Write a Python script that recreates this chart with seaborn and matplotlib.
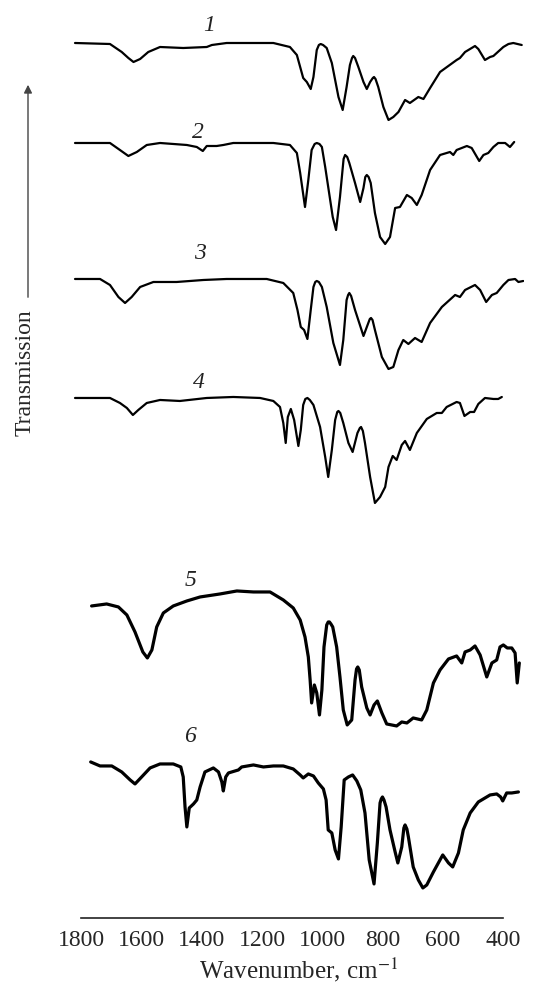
import numpy as np
import pandas as pd
import matplotlib
matplotlib.use("Agg")
import matplotlib.pyplot as plt
from matplotlib.patches import FancyArrowPatch
import seaborn as sns

# IR spectra, transmission in arbitrary units relative to each trace's start level
wn1 = [1821, 1705, 1666, 1644, 1627, 1605, 1578, 1539, 1462, 1384, 1367, 1318, 1163, 1108, 1085,
       1064, 1052, 1039, 1030, 1019, 1012, 1006, 998, 986, 969, 947, 933, 920, 909, 902, 898, 892,
       881, 864, 853, 842, 833, 829, 824, 815, 798, 781, 765, 748, 726, 710, 682, 665, 643, 610,
       555, 544, 527, 494, 483, 461, 444, 433, 400, 383, 367, 339]
t1 = [0, -1, -9, -15, -19, -16, -9, -4, -5, -4, -2, 0, 0, -4, -12,
      -35, -39, -46, -34, -7, -2, -1, -2, -5, -20, -54, -67, -44, -22, -15, -13, -15,
      -24, -39, -46, -39, -35, -34, -36, -44, -64, -77, -74, -69, -57, -60, -54, -56, -45, -29,
      -17, -15, -9, -3, -6, -17, -14, -13, -4, -1, 0, -2]

wn2 = [1821, 1705, 1672, 1644, 1616, 1583, 1539, 1450, 1417, 1397, 1384, 1351, 1329, 1296, 1163,
       1108, 1085, 1074, 1058, 1047, 1036, 1026, 1019, 1010, 1002, 991, 981, 966, 955, 942, 930,
       925, 918, 911, 892, 875, 864, 858, 853, 847, 840, 826, 809, 792, 776, 759, 743, 720, 704,
       687, 671, 643, 610, 577, 566, 555, 521, 505, 480, 466, 450, 433, 417, 394, 378, 364]
t2 = [0, 0, -7, -13, -9, -2, 0, -2, -4, -8, -3, -3, -2, 0, 0,
      -2, -10, -30, -64, -37, -7, -1, 0, -1, -4, -24, -44, -74, -87, -54, -16,
      -12, -14, -20, -40, -59, -45, -34, -32, -34, -40, -70, -94, -101, -94, -65, -64, -52, -55,
      -62, -52, -27, -12, -9, -12, -7, -3, -5, -18, -12, -10, -4, 0, 0, -4, 1]

wn3 = [1821, 1738, 1705, 1677, 1655, 1633, 1605, 1561, 1484, 1395, 1318, 1185, 1130, 1097, 1083,
       1072, 1061, 1050, 1039, 1030, 1024, 1019, 1012, 1002, 986, 964, 942, 931, 920, 915, 911,
       905, 892, 864, 848, 843, 839, 834, 826, 803, 781, 765, 748, 732, 715, 693, 671, 643, 604,
       560, 544, 527, 494, 477, 457, 438, 422, 400, 383, 361, 350, 334]
t3 = [0, 0, -6, -18, -24, -18, -8, -3, -3, -1, 0, 0, -4, -14, -31,
      -48, -51, -60, -31, -8, -3, -2, -3, -8, -28, -64, -86, -61, -21, -16, -14,
      -17, -31, -57, -44, -40, -39, -41, -51, -78, -90, -88, -71, -61, -65, -59, -63, -44, -28,
      -16, -18, -11, -6, -11, -23, -16, -14, -6, -1, 0, -3, -2]

wn4 = [1821, 1705, 1672, 1649, 1629, 1611, 1583, 1539, 1473, 1384, 1296, 1207, 1163, 1141, 1130,
       1122, 1115, 1105, 1094, 1080, 1072, 1064, 1057, 1050, 1042, 1030, 1008, 991, 981, 969, 958,
       951, 947, 941, 931, 914, 900, 884, 876, 872, 866, 859, 842, 826, 809, 792, 781, 767, 754,
       737, 726, 710, 687, 654, 621, 604, 588, 555, 544, 529, 510, 497, 483, 461, 433, 417, 405]
t4 = [0, 0, -5, -10, -17, -12, -5, -2, -3, 0, 1, 0, -3, -9, -25,
      -45, -19, -11, -22, -48, -32, -7, -1, 0, -2, -7, -29, -59, -79, -52, -22,
      -14, -13, -15, -25, -45, -54, -35, -30, -29, -33, -45, -79, -105, -99, -89, -69, -58, -62,
      -47, -43, -52, -35, -21, -15, -15, -9, -4, -5, -18, -14, -14, -6, 0, -1, -1, 1]

wn5 = [1766, 1716, 1677, 1649, 1622, 1596, 1581, 1566, 1550, 1528, 1495, 1450, 1406, 1340, 1284,
       1229, 1174, 1130, 1097, 1074, 1058, 1047, 1041, 1036, 1027, 1019, 1010, 1002, 995, 986,
       981, 977, 972, 966, 953, 942, 931, 918, 903, 892, 887, 883, 878, 870, 853, 842, 829, 818,
       803, 787, 754, 737, 720, 699, 671, 654, 632, 610, 582, 555, 538, 527, 510, 494, 477, 455,
       438, 422, 411, 400, 387, 372, 361, 354, 347]
t5 = [0, 2, -1, -9, -26, -46, -52, -44, -21, -7, 0, 5, 9, 12, 15,
      14, 14, 6, -2, -14, -31, -51, -74, -97, -79, -87, -109, -84, -41, -19,
      -16, -16, -18, -21, -41, -71, -104, -119, -114, -74, -63, -61, -64, -81, -102, -109, -99, -95,
      -107, -118, -120, -116, -117, -112, -114, -104, -77, -64, -53, -50, -57, -46, -44, -40, -49, -71,
      -57, -54, -41, -39, -42, -42, -47, -77, -57]

wn6 = [1769, 1738, 1699, 1666, 1638, 1622, 1600, 1572, 1539, 1495, 1470, 1462, 1456, 1450, 1442,
       1428, 1417, 1406, 1390, 1362, 1345, 1334, 1329, 1321, 1312, 1279, 1268, 1229, 1196, 1163,
       1130, 1097, 1074, 1064, 1047, 1030, 1014, 997, 988, 981, 969, 958, 947, 938, 928, 914,
       900, 886, 873, 859, 845, 829, 818, 809, 805, 801, 796, 789, 776, 759, 750, 737, 730, 726,
       720, 715, 699, 682, 667, 654, 632, 601, 582, 568, 549, 533, 510, 483, 444, 422, 409, 402,
       389, 372, 350]
t6 = [0, -4, -4, -10, -18, -22, -15, -6, -2, -2, -5, -15, -45, -65, -46,
      -42, -38, -25, -10, -6, -10, -20, -29, -15, -11, -8, -5, -3, -5, -4,
      -4, -7, -13, -16, -12, -14, -21, -27, -38, -68, -71, -88, -97, -65, -18, -15,
      -13, -19, -28, -51, -98, -122, -81, -41, -37, -35, -38, -45, -68, -90, -101, -85, -66, -63,
      -67, -75, -105, -118, -126, -123, -110, -93, -101, -105, -91, -68, -51, -40, -33, -32, -35, -39,
      -31, -31, -30]

labels = ["1", "2", "3", "4", "5", "6"]
offsets = [875, 775, 639, 520, 312, 156]
label_wn = [1376, 1413, 1405, 1410, 1437, 1439]
label_y = [892, 785, 664, 535, 337, 181]
xticks = [1800, 1600, 1400, 1200, 1000, 800, 600, 400]

frames = []
for name, w, t, off in zip(labels, [wn1, wn2, wn3, wn4, wn5, wn6],
                           [t1, t2, t3, t4, t5, t6], offsets):
    frames.append(pd.DataFrame({"wn": w, "T": np.array(t) + off, "spectrum": name}))
df = pd.concat(frames, ignore_index=True)

sns.set_style("white")
plt.rcParams["font.family"] = ["Liberation Serif", "DejaVu Serif"]
plt.rcParams["mathtext.fontset"] = "stix"

fig = plt.figure(figsize=(5.42, 9.88), dpi=100)
ax = fig.add_axes([0.1334, 0.0709, 0.8342, 0.9291])

for name in labels:
    sub = df[df["spectrum"] == name]
    lw = 2.3 if name in ("5", "6") else 1.6
    sns.lineplot(data=sub, x="wn", y="T", ax=ax, color="black", lw=lw,
                 sort=False, estimator=None, solid_joinstyle="round")

for lab, x, y in zip(labels, label_wn, label_y):
    ax.text(x, y, lab, fontsize=17, fontstyle="italic", ha="center", va="center",
            color="#222222")

ax.set_xlim(1830, 330)
ax.set_ylim(0, 918)
ax.set_yticks([])
ax.set_xticks(xticks)
ax.set_xticklabels([str(v) for v in xticks], fontsize=17)
ax.tick_params(axis="x", direction="in", length=7, width=1.0, pad=9, color="#222222")
for s in ("top", "right", "left"):
    ax.spines[s].set_visible(False)
ax.spines["bottom"].set_bounds(400, 1800)
ax.spines["bottom"].set_linewidth(1.2)
ax.spines["bottom"].set_color("#222222")
ax.set_xlabel(r"Wavenumber, cm$^{-1}$", fontsize=18, labelpad=3)
ax.set_ylabel("")
ax.patch.set_alpha(0)

fig.text(25 / 542, 1 - 373 / 988, "Transmission", rotation=90, fontsize=17,
         ha="center", va="center")
arrow = FancyArrowPatch((28 / 542, 1 - 300 / 988), (28 / 542, 1 - 82 / 988),
                        transform=fig.transFigure, arrowstyle="-|>", mutation_scale=12,
                        color="#444444", lw=1.0)
fig.add_artist(arrow)

fig.savefig("out.png", dpi=100)
